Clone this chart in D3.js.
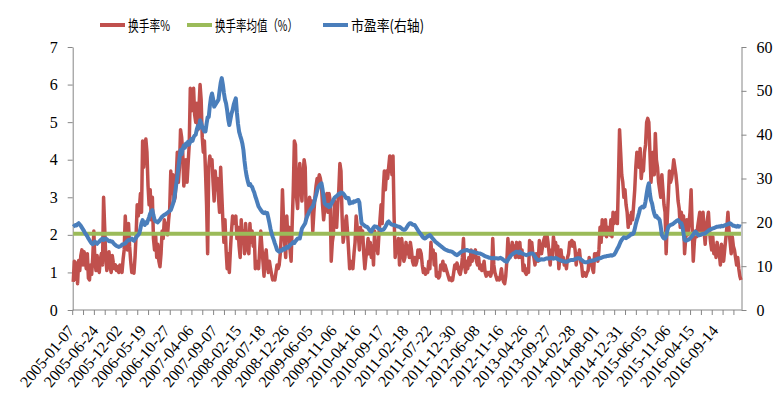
<!DOCTYPE html>
<html>
<head>
<meta charset="utf-8">
<script src="https://cdn.jsdelivr.net/npm/d3@7/dist/d3.min.js"></script>
<style>
	body { margin: 0; background: #fff; }
</style>
</head>
<body>
<svg id="chart"></svg>
<script>
// weekly turnover rate (%)
var turnover = [
0.75,1.30,0.82,1.25,0.70,1.32,1.05,1.45,1.60,1.20,
1.55,1.35,1.10,1.50,0.85,0.80,1.20,0.95,1.40,2.10,
1.30,1.05,1.45,1.15,1.00,1.35,1.50,1.20,3.00,2.20,
1.40,1.05,1.30,1.55,1.15,1.00,1.45,1.25,1.10,1.20,
1.05,1.15,1.00,1.20,1.10,1.00,1.35,1.60,2.50,1.90,
1.60,2.30,1.70,1.30,1.00,1.10,0.98,1.40,2.00,2.80,
2.50,2.70,3.10,2.60,4.50,3.80,4.40,4.55,4.20,3.30,
2.80,3.20,2.40,3.00,1.90,1.60,2.00,1.40,1.75,1.30,
1.15,1.50,2.10,1.90,2.40,2.10,2.30,2.00,2.40,2.70,
3.70,3.10,3.60,2.90,3.00,3.50,4.20,3.40,3.80,4.80,
4.60,4.20,3.30,3.60,4.00,3.40,3.90,4.40,5.90,5.30,
5.70,5.90,5.20,5.00,5.50,4.80,5.40,6.00,5.60,4.60,
4.20,4.50,3.70,2.80,1.50,3.80,4.10,3.90,4.00,3.40,
2.90,3.70,3.20,3.50,3.00,2.60,3.80,3.10,2.40,1.80,
2.40,1.60,1.10,1.50,1.00,1.60,2.10,2.50,2.30,2.40,
2.50,1.90,2.20,1.70,1.40,2.40,1.80,2.10,1.50,2.30,
1.90,1.60,1.50,2.30,1.80,2.10,1.70,2.00,1.10,1.30,
1.20,1.10,1.60,2.10,1.70,1.30,0.90,1.40,1.60,1.20,
1.00,1.30,1.10,0.95,0.80,0.85,0.80,1.00,1.20,1.10,
1.20,1.50,2.00,3.20,2.40,1.80,1.40,2.50,1.90,2.20,
1.60,1.30,2.30,3.20,4.50,4.40,3.00,2.70,3.50,3.90,
3.30,2.90,3.60,4.00,3.80,2.40,2.90,2.70,3.00,2.80,
2.90,2.10,2.60,3.00,3.30,3.50,3.40,3.60,3.50,3.30,
2.80,2.40,2.70,2.90,3.10,2.60,3.10,2.90,1.30,1.80,
2.00,2.90,2.40,2.20,2.80,3.20,3.90,3.70,2.50,1.80,
2.00,2.30,2.50,2.10,1.60,1.10,1.30,1.20,1.10,1.50,
1.80,2.50,2.20,2.00,1.60,2.20,1.90,2.10,1.50,1.10,
1.40,1.60,1.90,1.50,1.80,1.40,1.70,1.20,2.10,1.60,
1.80,1.50,2.00,2.40,2.80,2.30,3.20,3.70,3.20,3.70,
3.50,3.80,4.10,4.00,3.60,4.10,2.50,1.40,1.70,1.60,
1.90,1.20,1.50,1.90,1.60,1.30,1.40,1.80,1.50,1.70,
1.40,1.80,1.60,1.30,1.20,1.40,1.20,1.30,1.60,1.40,
1.60,1.50,1.20,1.00,1.10,0.95,1.05,1.00,1.30,1.10,
1.80,1.40,1.60,1.20,1.50,0.90,1.00,0.85,0.90,1.20,
1.10,1.30,1.05,1.20,1.10,1.00,0.90,0.80,0.85,0.78,
0.80,1.00,1.20,1.10,1.25,1.15,1.00,0.95,1.10,1.40,
1.90,1.20,1.00,1.30,1.10,1.40,1.20,1.60,1.30,1.50,
1.40,1.60,1.30,1.20,1.40,1.10,1.20,1.05,1.10,1.30,
1.00,0.90,1.00,0.95,1.00,0.90,1.00,1.90,1.20,1.00,
0.90,0.80,0.85,0.80,0.90,1.10,0.85,0.75,0.70,0.90,
1.30,1.90,1.50,1.40,1.60,1.80,1.50,1.70,1.40,1.80,
1.60,1.40,1.80,1.40,1.60,1.05,1.20,1.00,0.95,1.10,
1.00,1.85,1.60,1.80,1.50,1.40,1.20,1.50,1.40,1.30,
1.85,1.60,1.50,1.70,1.85,1.95,1.70,2.00,1.80,1.50,
1.20,1.60,1.40,1.95,1.70,1.80,1.40,1.70,1.10,1.40,
1.60,1.30,1.40,1.20,1.30,1.10,1.40,1.50,1.80,1.70,
1.85,1.70,1.80,1.60,1.20,1.50,1.40,1.60,1.30,1.20,
0.90,1.00,0.95,0.90,1.00,1.05,1.40,1.20,1.30,1.10,
1.00,1.50,1.40,1.50,1.30,1.60,2.20,1.80,2.40,2.00,
2.00,2.40,1.95,2.20,2.10,2.00,2.40,1.95,2.60,2.30,
2.50,2.60,2.30,3.50,4.80,4.20,3.60,3.40,3.00,3.20,
2.80,2.60,2.20,2.50,2.30,2.60,2.40,2.80,3.20,3.80,
4.20,4.00,3.80,4.30,3.50,3.80,3.70,4.20,4.40,5.00,
5.10,5.00,4.20,3.40,3.80,4.20,3.60,4.70,4.00,3.80,
3.40,3.20,3.00,3.60,3.20,2.80,2.60,1.50,2.40,3.00,
3.70,3.40,3.50,3.70,4.00,3.80,3.60,3.30,2.90,2.70,
2.20,2.60,2.30,2.50,1.50,1.90,2.40,2.00,2.30,2.60,
3.20,2.20,1.30,1.80,2.10,1.95,2.20,2.40,2.60,2.00,
2.30,2.60,2.10,1.75,2.20,2.40,2.60,2.10,1.80,1.60,
1.95,1.50,1.70,1.40,1.80,1.60,1.50,1.20,1.75,1.50,
1.30,1.60,1.90,2.20,2.60,2.10,1.80,1.50,1.95,1.70,
1.60,1.40,1.20,1.40,1.10,0.90,0.80
];

// weekly P/E (right axis)
var pe = [
19.0,19.2,19.4,19.3,19.6,19.8,19.5,19.2,18.8,18.4,
18.0,17.5,17.2,16.8,16.3,15.9,15.5,15.2,15.0,15.3,
15.6,15.3,15.1,15.4,15.6,15.9,16.1,16.3,16.0,16.2,
16.3,16.1,15.9,15.7,15.8,15.6,15.6,15.3,15.0,14.8,
14.6,14.5,14.4,14.5,14.6,14.9,15.0,15.1,15.2,15.5,
15.8,16.0,15.9,16.1,16.3,16.0,15.8,16.2,16.5,16.9,
17.1,17.5,18.6,19.8,20.5,19.8,19.4,20.0,19.8,20.5,
21.2,22.0,22.5,22.8,21.6,20.6,20.2,20.2,20.0,20.3,
20.6,21.0,21.3,21.5,21.7,21.8,22.0,22.2,22.4,22.6,
22.8,23.5,24.2,25.0,26.8,28.6,30.4,32.5,34.5,36.5,
35.5,36.8,37.5,37.0,38.0,37.6,38.4,37.8,38.4,39.0,
38.6,39.4,39.8,40.0,41.2,42.0,41.5,43.3,42.6,41.8,
41.2,40.7,40.7,42.5,44.0,44.0,46.5,48.4,49.4,48.2,
46.4,46.8,47.2,47.6,48.0,50.0,51.8,52.9,51.5,49.5,
48.0,47.1,45.5,43.5,42.2,43.5,44.8,45.6,46.8,47.6,
48.3,45.0,42.5,40.7,39.8,39.0,38.0,36.5,34.0,32.0,
30.5,29.4,28.5,28.8,28.3,28.1,27.4,26.8,25.9,25.2,
24.4,23.6,23.2,22.8,22.5,22.2,22.1,22.3,22.0,22.1,
21.0,19.8,18.5,17.5,16.7,16.0,15.2,14.5,13.7,13.5,
13.3,13.6,13.5,13.7,14.0,13.8,14.1,14.4,14.2,14.5,
14.8,15.0,15.2,15.5,15.3,15.7,16.0,16.3,16.3,16.3,
17.5,18.6,19.0,19.4,19.8,20.8,21.5,22.0,22.6,23.0,
23.4,23.6,24.4,25.3,26.2,27.2,28.0,28.4,28.7,28.9,
27.5,25.8,24.3,24.0,23.8,24.0,23.5,23.6,24.2,24.6,
25.1,25.6,25.8,26.0,26.2,26.5,26.4,26.8,26.7,26.6,
26.3,25.8,25.5,25.6,25.5,24.3,24.4,24.6,24.5,24.8,
24.7,24.9,25.0,25.1,24.5,22.0,19.8,19.6,19.4,19.2,
19.0,19.0,18.7,18.3,18.0,17.9,18.4,18.8,19.1,19.0,
19.0,18.7,18.5,18.4,18.2,18.3,18.3,18.6,19.0,19.5,
20.0,20.2,19.9,19.6,19.5,19.4,19.4,19.3,19.2,19.1,
19.0,19.0,18.8,18.6,18.4,18.3,18.3,18.6,19.0,19.4,
19.7,19.8,19.7,19.5,19.4,19.4,19.0,18.6,18.2,17.8,
17.5,17.2,16.8,16.5,16.3,16.4,16.6,16.8,17.0,17.1,
16.8,16.5,16.2,15.9,15.6,15.4,15.2,15.0,14.8,14.6,
14.4,14.2,14.0,13.8,13.7,13.6,13.5,13.4,13.4,13.3,
13.2,13.0,12.8,12.6,12.5,12.7,12.9,13.1,13.3,13.4,
13.5,13.6,13.6,13.7,13.6,13.5,13.4,13.4,13.3,13.3,
13.2,13.1,13.0,13.0,12.9,12.9,12.8,12.7,12.6,12.4,
12.3,12.2,12.1,12.0,11.9,11.9,11.8,11.8,11.9,11.8,
11.8,11.8,11.7,11.8,11.9,11.8,11.6,11.4,11.2,11.1,
11.0,11.4,11.8,12.2,12.5,12.7,12.9,13.0,13.2,13.3,
13.2,13.0,13.3,13.1,12.9,12.8,12.7,12.6,12.5,12.6,
12.7,12.8,12.9,12.9,12.9,12.6,12.2,11.8,11.5,11.4,
11.4,11.5,11.6,11.5,11.5,11.6,11.7,11.8,11.7,11.8,
11.8,11.9,11.8,11.7,11.8,11.9,11.8,11.6,11.5,11.4,
11.3,11.2,11.1,11.1,11.0,11.0,11.1,11.2,11.3,11.4,
11.4,11.4,11.5,11.6,11.7,11.8,11.8,11.8,11.6,11.4,
11.2,11.0,10.9,10.9,10.9,11.0,11.1,11.2,11.2,11.3,
11.3,11.4,11.5,11.6,11.7,11.8,11.8,11.9,12.0,12.1,
12.2,12.2,12.3,12.3,12.4,12.4,12.5,12.4,12.5,12.6,
13.0,13.5,14.0,14.4,15.0,15.6,16.0,16.3,16.6,16.5,
16.4,16.6,16.7,16.9,17.1,17.4,17.3,17.5,18.5,19.6,
20.5,21.3,22.2,23.2,23.4,23.6,23.4,23.6,24.8,26.5,
28.0,28.9,26.5,25.0,24.3,23.0,22.0,21.3,21.5,21.0,
20.9,20.5,19.0,17.1,16.6,16.3,16.3,16.8,18.0,19.0,
19.2,19.4,19.5,19.6,19.8,20.0,20.2,20.4,20.5,20.2,
19.9,19.8,19.0,17.5,16.0,15.8,15.9,16.0,16.1,16.3,
16.6,16.9,17.2,17.6,17.9,17.6,17.3,17.0,17.1,17.2,
17.3,17.4,17.4,17.5,17.7,17.9,18.1,18.3,18.4,18.5,
18.6,18.7,18.8,18.9,19.0,19.0,19.1,19.0,19.2,19.1,
19.2,19.3,19.4,19.5,19.6,19.7,19.8,19.6,19.4,19.2,
19.2,19.1,19.0,19.2,19.0,19.1,19.0
];

// mean turnover over the whole period
var turnoverMean = 2.03;

// shown date labels, one every 22 weeks
var dateLabels = ["2005-01-07","2005-06-24","2005-12-02","2006-05-19","2006-10-27","2007-04-06",
	"2007-09-07","2008-02-15","2008-07-18","2008-12-26","2009-06-05","2009-11-06","2010-04-16",
	"2010-09-17","2011-02-18","2011-07-22","2011-12-30","2012-06-08","2012-11-16","2013-04-26",
	"2013-09-27","2014-02-28","2014-08-01","2014-12-31","2015-06-05","2015-11-06","2016-04-15",
	"2016-09-14"];
var labelStep = 22;
var tickStep = 10;

var leftTicks = [0, 1, 2, 3, 4, 5, 6, 7];
var rightTicks = [0, 10, 20, 30, 40, 50, 60];

var legendNames = ["换手率%", "换手率均值（%）", "市盈率(右轴)"];
var colors = ["#C0504D", "#9BBB59", "#4A7EBB"];

var serif = "Liberation Serif, DejaVu Serif, serif";
var axisColor = "#868686";

var svg = d3.select("#chart").attr("width", 781).attr("height", 415),
	plotLeft = 72.7, plotRight = 741.5, plotTop = 47, plotBottom = 310;

var weeks = d3.range(turnover.length);

var x = d3.scaleBand()
	.domain(weeks)
	.range([plotLeft, plotRight])
	.padding(0);

var cx = function(i) { return x(i) + x.bandwidth() / 2; };

var yLeft = d3.scaleLinear().domain([0, 7]).range([plotBottom, plotTop]);
var yRight = d3.scaleLinear().domain([0, 60]).range([plotBottom, plotTop]);

function styleAxis(g) {
	g.attr("font-family", serif).attr("font-size", 16);
	g.select(".domain").attr("stroke", axisColor);
	g.selectAll(".tick line").attr("stroke", axisColor);
	g.selectAll("text").attr("fill", "#000");
}

// axes
svg.append("g")
	.attr("transform", "translate(" + plotLeft + ",0)")
	.call(d3.axisLeft(yLeft).tickValues(leftTicks).tickFormat(d3.format("d"))
		.tickSize(5).tickSizeOuter(0).tickPadding(10))
	.call(styleAxis);

svg.append("g")
	.attr("transform", "translate(" + plotRight + ",0)")
	.call(d3.axisRight(yRight).tickValues(rightTicks).tickFormat(d3.format("d"))
		.tickSize(5).tickSizeOuter(0).tickPadding(10))
	.call(styleAxis);

var xAxis = svg.append("g")
	.attr("transform", "translate(0," + plotBottom + ")")
	.attr("font-family", serif)
	.attr("font-size", 16);

xAxis.append("line")
	.attr("x1", plotLeft).attr("x2", plotRight)
	.attr("stroke", axisColor);

xAxis.selectAll(".xtick")
	.data(weeks.filter(function(d) { return d % tickStep == 0; }))
	.enter()
	.append("line")
		.attr("class", "xtick")
		.attr("x1", function(d) { return x(d); })
		.attr("x2", function(d) { return x(d); })
		.attr("y1", 0)
		.attr("y2", 5)
		.attr("stroke", axisColor);

xAxis.selectAll(".xlabel")
	.data(dateLabels)
	.enter()
	.append("text")
		.attr("class", "xlabel")
		.attr("text-anchor", "end")
		.attr("fill", "#000")
		.attr("transform", function(d, i) {
			return "translate(" + (cx(i * labelStep) + 2) + ",21) rotate(-50)";
		})
		.text(function(d) { return d; });

// series
var turnoverLine = d3.line()
	.x(function(d, i) { return cx(i); })
	.y(function(d) { return yLeft(d); });

var peLine = d3.line()
	.x(function(d, i) { return cx(i); })
	.y(function(d) { return yRight(d); });

svg.append("path")
	.datum(turnover)
	.attr("fill", "none")
	.attr("stroke", colors[0])
	.attr("stroke-width", 3.5)
	.attr("stroke-linejoin", "round")
	.attr("d", turnoverLine);

svg.append("line")
	.attr("x1", cx(0))
	.attr("x2", cx(weeks.length - 1))
	.attr("y1", yLeft(turnoverMean))
	.attr("y2", yLeft(turnoverMean))
	.attr("stroke", colors[1])
	.attr("stroke-width", 4);

svg.append("path")
	.datum(pe)
	.attr("fill", "none")
	.attr("stroke", colors[2])
	.attr("stroke-width", 4)
	.attr("stroke-linejoin", "round")
	.attr("d", peLine);

// legend
var legendX = [100, 187, 323];
var legendW = [42, 83, 73];

var legend = svg.append("g")
	.attr("font-family", "Noto Sans CJK SC, sans-serif")
	.attr("font-size", 15)
	.selectAll("g")
	.data(legendNames)
	.enter()
	.append("g")
		.attr("transform", function(d, i) { return "translate(" + legendX[i] + ",25)"; });

legend.append("line")
	.attr("x1", 0).attr("x2", 25)
	.attr("stroke", function(d, i) { return colors[i]; })
	.attr("stroke-width", 4);

legend.append("text")
	.attr("x", 28)
	.attr("y", 6)
	.attr("fill", "#000")
	.attr("textLength", function(d, i) { return legendW[i]; })
	.attr("lengthAdjust", "spacingAndGlyphs")
	.text(function(d) { return d; });
</script>
</body>
</html>
